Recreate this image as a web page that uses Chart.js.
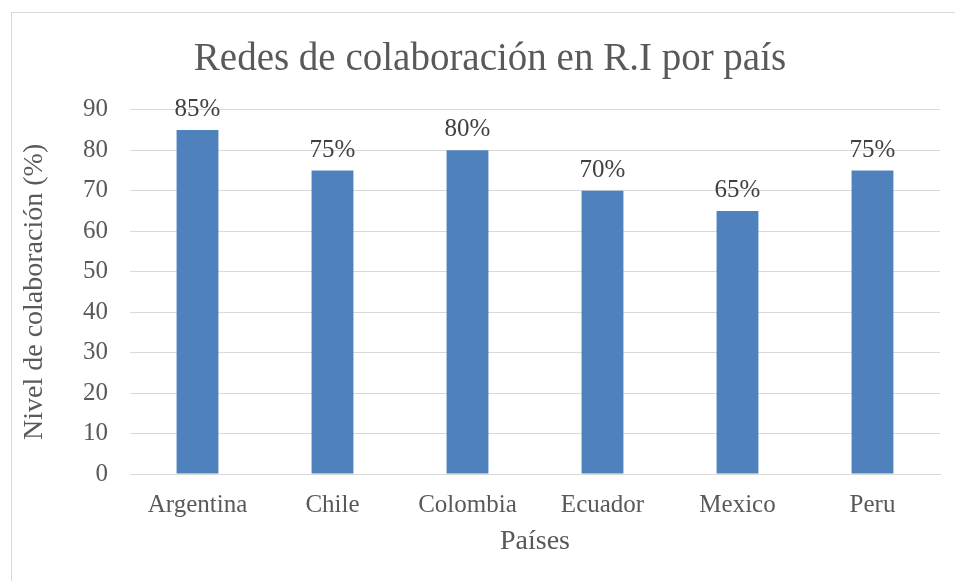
<!DOCTYPE html>
<html>
<head>
<meta charset="utf-8">
<script src="https://cdn.jsdelivr.net/npm/chart.js@4/dist/chart.umd.min.js"></script>
<style>
  html, body { margin: 0; padding: 0; background: #fff; overflow: hidden; }
  #wrap { position: relative; width: 955px; height: 581px; }
  #frame { position: absolute; left: 11px; top: 12px; width: 980px; height: 600px;
           border: 1px solid #d9d9d9; pointer-events: none; }
  canvas { position: absolute; left: 0; top: 0; }
</style>
</head>
<body>
<div id="wrap">
  <div id="frame"></div>
  <canvas id="chart" width="955" height="581"></canvas>
</div>
<script>
// chart data
const countries = ["Argentina", "Chile", "Colombia", "Ecuador", "Mexico", "Peru"];
const collaboration = [85, 75, 80, 70, 65, 75];
const yTicks = [0, 10, 20, 30, 40, 50, 60, 70, 80, 90];

const FONT = "'Liberation Serif', 'Times New Roman', serif";
const INK = "#595959";
const GRID = "#d9d9d9";
const BAR = "#4f81bd";

// percent labels above each bar, placed from the bar elements themselves
const barLabels = {
  id: "barLabels",
  afterDatasetsDraw(chart) {
    const ctx = chart.ctx;
    const meta = chart.getDatasetMeta(0);
    ctx.save();
    ctx.font = `25px ${FONT}`;
    ctx.fillStyle = "#404040";
    ctx.textAlign = "center";
    ctx.textBaseline = "alphabetic";
    meta.data.forEach((bar, i) => {
      ctx.fillText(collaboration[i] + "%", bar.x, bar.y - 14);
    });
    ctx.restore();
  },
};

new Chart(document.getElementById("chart"), {
  type: "bar",
  data: {
    labels: countries,
    datasets: [{
      data: collaboration,
      backgroundColor: BAR,
      borderWidth: 0,
      categoryPercentage: 1,
      barPercentage: 0.31,
    }],
  },
  plugins: [barLabels],
  options: {
    responsive: false,
    animation: false,
    // left padding shifts the title centre right, like the original
    layout: { padding: { left: 40, right: 15, top: 0, bottom: 0 } },
    plugins: {
      legend: { display: false },
      tooltip: { enabled: false },
      title: {
        display: true,
        text: "Redes de colaboración en R.I por país",
        color: INK,
        font: { family: FONT, size: 39, weight: "normal" },
        padding: { top: 36, bottom: 27 },
      },
    },
    scales: {
      x: {
        grid: { display: false, drawTicks: false },
        border: { display: true, color: GRID, width: 1 },
        ticks: { color: INK, font: { family: FONT, size: 25 }, padding: 16, maxRotation: 0 },
        title: {
          display: true,
          text: "Países",
          color: INK,
          font: { family: FONT, size: 28 },
          padding: { top: 0, bottom: 23 },
        },
        afterFit(scale) { scale.height = 107; },
      },
      y: {
        min: 0,
        max: 90,
        afterBuildTicks(scale) { scale.ticks = yTicks.map(v => ({ value: v })); },
        grid: { color: GRID, lineWidth: 1, drawTicks: false },
        border: { display: false },
        ticks: { color: INK, font: { family: FONT, size: 25 }, padding: 22 },
        title: {
          display: true,
          text: "Nivel de colaboración (%)",
          color: INK,
          font: { family: FONT, size: 28 },
          padding: { top: -22, bottom: 0 },
        },
        afterFit(scale) { scale.width = 90; },
      },
    },
  },
});
</script>
</body>
</html>
